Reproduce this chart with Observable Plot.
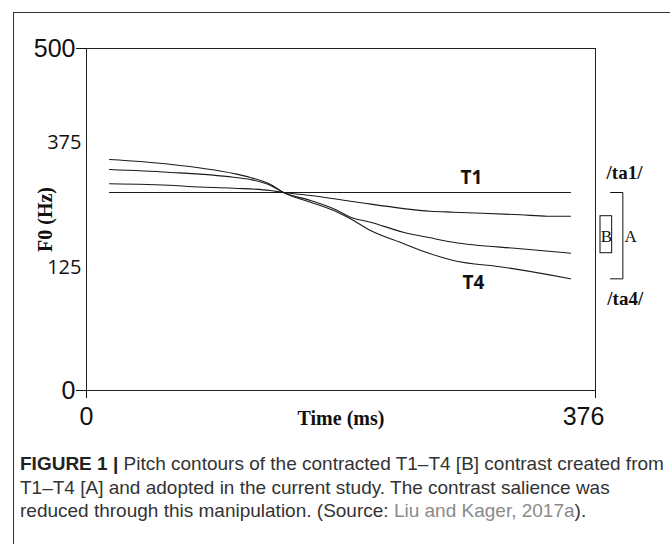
<!DOCTYPE html>
<html><head><meta charset="utf-8">
<script src="https://cdn.jsdelivr.net/npm/d3@7"></script>
<script src="https://cdn.jsdelivr.net/npm/@observablehq/plot@0.6"></script>
<style>
html,body{margin:0;padding:0;background:#fff;}
#wrap{position:relative;width:670px;height:544px;overflow:hidden;background:#fff;}
#frame{position:absolute;left:13px;top:12px;width:700px;height:600px;border-left:1px solid #333;border-top:1px solid #333;}
#chart{position:absolute;left:0;top:0;}
#caption{position:absolute;left:20px;top:452px;font-family:"Liberation Sans",Arial,sans-serif;font-size:19px;line-height:23.5px;color:#333;white-space:nowrap;}
#caption b{color:#222;}
#caption .src{color:#8a8a8a;}
</style></head><body>
<div id="wrap">
  <div id="frame"></div>
  <div id="chart"></div>
  <div id="caption"><b>FIGURE 1 |</b> Pitch contours of the contracted T1–T4 [B] contrast created from<br>T1–T4 [A] and adopted in the current study. The contrast salience was<br>reduced through this manipulation. (Source: <span class="src">Liu and Kager, 2017a</span>).</div>
</div>
<script>
// Time in ms, F0 in Hz
const t1Time = [17, 145.5, 357.5];
const t1F0   = [275, 275, 275];

const t1cTime = [17, 65, 75, 108.6, 136, 145.5, 165.5, 195, 254, 271, 320.6, 340.5, 357.5];
const t1cF0   = [292.4, 289, 287, 283.6, 279, 275, 269, 257.6, 237.6, 235.6, 230.4, 227.6, 227.6];

const t4cTime = [17, 60, 108.6, 121, 136, 145.5, 165.5, 185.4, 195, 209.8, 234, 254, 271, 320.6, 357.5];
const t4cF0   = [321, 315.6, 305.6, 301, 289, 275, 259, 239, 225.6, 215.6, 195.6, 184.4, 175.6, 162.4, 153.6];

const t4Time = [17, 60, 108.6, 121, 136, 145.5, 165.5, 185.4, 195, 209.8, 234, 254, 271, 308, 340, 357.5];
const t4F0   = [341, 332, 313, 305, 291, 275, 255.6, 235.6, 222.4, 199, 173, 152.4, 139, 125.6, 118, 113.5];

const yTickValues = [0, 125, 375, 500];
const yTickMajor = [0, 500];
const yTickMinor = [125, 375];
const xTickValues = [0, 376];
// the printed axis is not uniform: relative position (0–500 units) of each tick value on the axis
const yTickSpacing = [0, 179.8, 362.6, 500];

// annotations
const annoText = ["T1", "T4"];
const annoTime = [284.4, 285.9];
const annoF0   = [305, 109.8];

const tagText = ["/ta1/", "/ta4/"];
const tagTime = [397.4, 398];
const tagF0   = [313.6, 93.5];

const bracketLetters = ["B", "A"];
const bracketLetterTime = [384, 401.9];
const bracketLetterF0 = [187, 187];

// bracket A: from T1 end to T4 end; box B: contracted ends
const bracketA = {x1: 387.1, x2: 396.2, top: 275, bottom: 113.5};
const boxB = {x1: 379.7, x2: 388.3, top: 227.6, bottom: 153.6};

const rows = [];
function addSeries(name, ts, fs) { ts.forEach((t, i) => rows.push({series: name, time: t, f0: fs[i]})); }
addSeries("T1", t1Time, t1F0);
addSeries("T1c", t1cTime, t1cF0);
addSeries("T4c", t4cTime, t4cF0);
addSeries("T4", t4Time, t4F0);

const annos = annoText.map((s, i) => ({s, time: annoTime[i], f0: annoF0[i]}));
const tags = tagText.map((s, i) => ({s, time: tagTime[i], f0: tagF0[i]}));
const letters = bracketLetters.map((s, i) => ({s, time: bracketLetterTime[i], f0: bracketLetterF0[i]}));
const bracketAPath = [
  {time: bracketA.x1, f0: bracketA.top}, {time: bracketA.x2, f0: bracketA.top},
  {time: bracketA.x2, f0: bracketA.bottom}, {time: bracketA.x1, f0: bracketA.bottom}
];

const hzToAxis = d3.scaleLinear().domain(yTickValues).range(yTickSpacing);
// axis ticks are placed in axis units; labels show the Hz value
const minorTickPos = yTickMinor.map(hzToAxis);

const sans = "Liberation Sans, Arial, sans-serif";
const serif = "Liberation Serif, Times New Roman, serif";

const chart = Plot.plot({
  width: 670, height: 440,
  marginLeft: 86, marginRight: 75, marginTop: 48, marginBottom: 50,
  style: {background: "transparent", color: "#111", overflow: "visible"},
  x: {domain: [0, 376], axis: null, label: null},
  y: {transform: hzToAxis, domain: [0, 500], axis: null, label: null},
  marks: [
    Plot.frame({stroke: "#222", strokeWidth: 1}),
    Plot.axisY({ticks: yTickMajor, tickSize: 10, tickPadding: 1, fontSize: 25, fontFamily: sans, label: null}),
    Plot.axisY({ticks: minorTickPos, tickFormat: d => String(Math.round(hzToAxis.invert(d))), tickSize: 0, tickPadding: 5, fontSize: 20, fontFamily: "Open Sans, sans-serif", label: null}),
    Plot.axisY({ticks: [], label: "F0 (Hz)", labelAnchor: "center", labelArrow: "none", labelOffset: 49, fontSize: 20, fontWeight: "bold", fontFamily: serif}),
    Plot.axisX({ticks: xTickValues, tickSize: 8, tickFormat: () => "", label: null}),
    Plot.axisX({ticks: [0], tickSize: 0, tickPadding: 17, fontSize: 25, fontFamily: sans, label: null}),
    Plot.axisX({ticks: [376], tickSize: 0, tickPadding: 17, dx: -12, fontSize: 25, fontFamily: sans, label: null}),
    Plot.axisX({ticks: [], label: "Time (ms)", labelAnchor: "center", labelArrow: "none", labelOffset: 34, fontSize: 20, fontWeight: "bold", fontFamily: serif}),
    Plot.line(rows, {x: "time", y: "f0", z: "series", stroke: "#1a1a1a", strokeWidth: 1.1, curve: "monotone-x"}),
    Plot.text(annos, {x: "time", y: "f0", text: "s", fontSize: 19, fontWeight: "bold", fontFamily: "Open Sans, sans-serif", fill: "#111"}),
    Plot.text(tags, {x: "time", y: "f0", text: "s", fontSize: 19, fontWeight: "bold", fontFamily: serif, fill: "#111"}),
    Plot.text(letters, {x: "time", y: "f0", text: "s", fontSize: 17, fontFamily: serif, fill: "#111"}),
    Plot.line(bracketAPath, {x: "time", y: "f0", stroke: "#111", strokeWidth: 1}),
    Plot.rect([boxB], {x1: "x1", x2: "x2", y1: "bottom", y2: "top", fill: "none", stroke: "#111", strokeWidth: 1})
  ]
});
document.getElementById("chart").appendChild(chart);
</script>
</body></html>
